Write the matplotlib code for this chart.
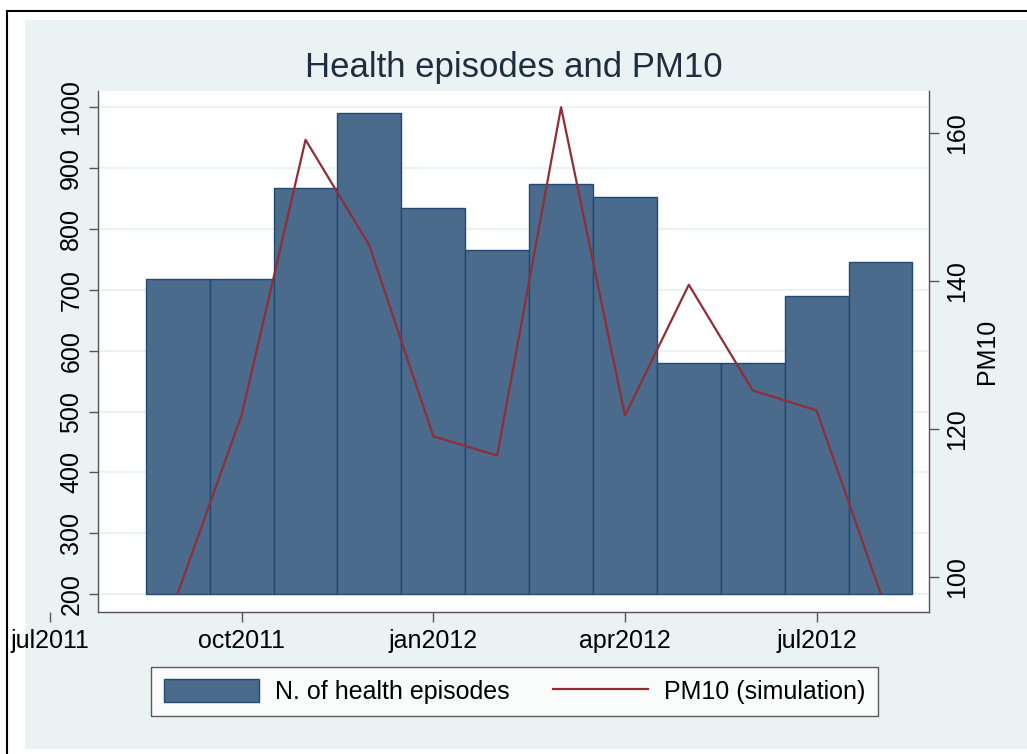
import matplotlib
matplotlib.use("Agg")
import matplotlib.pyplot as plt
import numpy as np
import pandas as pd
from matplotlib.patches import Rectangle
from matplotlib.lines import Line2D
from matplotlib.transforms import offset_copy

plt.rcParams['font.family'] = ['Liberation Sans', 'DejaVu Sans']

# ---- data ----
months = ["2011-09", "2011-10", "2011-11", "2011-12", "2012-01", "2012-02",
          "2012-03", "2012-04", "2012-05", "2012-06", "2012-07", "2012-08"]
health_episodes = [718, 718, 867, 991, 835, 766, 873, 853, 579, 579, 689, 746]
pm10_sim = [97.8, 121.9, 159.1, 144.8, 119.0, 116.4, 163.5, 121.8, 139.5, 125.2, 122.5, 97.8]
tick_months = ["2011-07", "2011-10", "2012-01", "2012-04", "2012-07"]
tick_labels = ["jul2011", "oct2011", "jan2012", "apr2012", "jul2012"]
left_ticks = [200, 300, 400, 500, 600, 700, 800, 900, 1000]
right_ticks = [100, 120, 140, 160]
bar_base = 200

x = np.array([pd.Period(m, freq="M").ordinal for m in months])
xt = np.array([pd.Period(m, freq="M").ordinal for m in tick_months])
heights = np.array(health_episodes) - bar_base

BG = "#EAF2F3"
BAR = "#4A6B8C"
BAR_EDGE = "#1F4A73"
LINE = "#902D37"
AX = "#555555"
TICKLEN = 9.5 * 0.72   # points
XPAD = 5.5

fig = plt.figure(figsize=(10.27, 7.54), dpi=100, facecolor="white")
fig.add_artist(Rectangle((25/1027, 1-749/754), (1027-25)/1027, (749-20)/754,
                         transform=fig.transFigure, facecolor=BG, edgecolor="none", zorder=-10))
fig.add_artist(Line2D([7/1027, 1], [1-11/754, 1-11/754], transform=fig.transFigure, color="black", lw=1.5))
fig.add_artist(Line2D([7/1027, 7/1027], [0, 1-11/754], transform=fig.transFigure, color="black", lw=1.5))

ax = fig.add_axes([97.7/1027, 1-611.5/754, (929-97.7)/1027, (611.5-91)/754])
ax.set_facecolor("white")
ax.bar(x, heights, width=1.0, bottom=bar_base, color=BAR, edgecolor=BAR_EDGE, linewidth=1.0, zorder=2)

ax.set_xlim(xt[0] + 0.746, xt[0] + 13.76)
ax.set_ylim(171.8, 1026.3)
ax.set_yticks(left_ticks)
ax.set_yticklabels([str(v) for v in left_ticks], rotation=90, va="center", fontsize=18)
ax.grid(axis="y", color=BG, linewidth=1.6, zorder=0)
ax.set_axisbelow(True)
ax.set_xticks(xt[1:])
ax.set_xticklabels(tick_labels[1:], fontsize=18)
ax.tick_params(axis="both", length=TICKLEN, width=1.0, color=AX)
ax.tick_params(axis="y", pad=3.5)
ax.tick_params(axis="x", pad=XPAD)
ax.spines["top"].set_visible(False)
ax.spines["right"].set_visible(False)
for s in ["left", "bottom"]:
    ax.spines[s].set_color(AX)
    ax.spines[s].set_linewidth(1.0)

# first tick (jul2011) lies outside the plot region
trans = ax.get_xaxis_transform()
ax.plot([xt[0]], [0], transform=trans, clip_on=False,
        marker=3, markersize=TICKLEN, markeredgewidth=1.0, markeredgecolor=AX, linestyle="none")
ax.text(xt[0], 0, tick_labels[0],
        transform=offset_copy(trans, fig=fig, x=0, y=-(TICKLEN + XPAD), units="points"),
        ha="center", va="top", fontsize=18, clip_on=False)

ax2 = ax.twinx()
ax2.plot(x, pm10_sim, color=LINE, linewidth=1.6, zorder=3)
ax2.set_ylim(95.3, 165.7)
ax2.set_yticks(right_ticks)
ax2.set_yticklabels([str(v) for v in right_ticks], rotation=90, va="center", fontsize=18)
ax2.tick_params(axis="y", length=TICKLEN, width=1.0, color=AX, pad=5)
ax2.spines["top"].set_visible(False)
ax2.spines["left"].set_visible(False)
ax2.spines["bottom"].set_visible(False)
ax2.spines["right"].set_color(AX)
ax2.spines["right"].set_linewidth(1.0)
ax2.set_ylabel("PM10", fontsize=18, labelpad=4)

fig.text(0.5*(97.7+929)/1027, 1-67/754, "Health episodes and PM10", ha="center", va="center",
         fontsize=25, color="#1E2D3F")

handles = [Rectangle((0, 0), 1, 1, facecolor=BAR, edgecolor=BAR_EDGE, linewidth=1.0),
           Line2D([0], [0], color=LINE, linewidth=1.6)]
leg = fig.legend(handles, ["N. of health episodes", "PM10 (simulation)"], ncol=2,
                 loc="center", bbox_to_anchor=(514.5/1027, 1-691.5/754), fontsize=18,
                 frameon=True, fancybox=False, shadow=False, handlelength=3.8,
                 handleheight=1.0, handletextpad=0.64, columnspacing=1.75, borderpad=0.5,
                 borderaxespad=0)
leg.get_frame().set_edgecolor("#333333")
leg.get_frame().set_linewidth(1.0)
leg.get_frame().set_facecolor("white")

fig.savefig("out.png", dpi=100, facecolor=fig.get_facecolor())
